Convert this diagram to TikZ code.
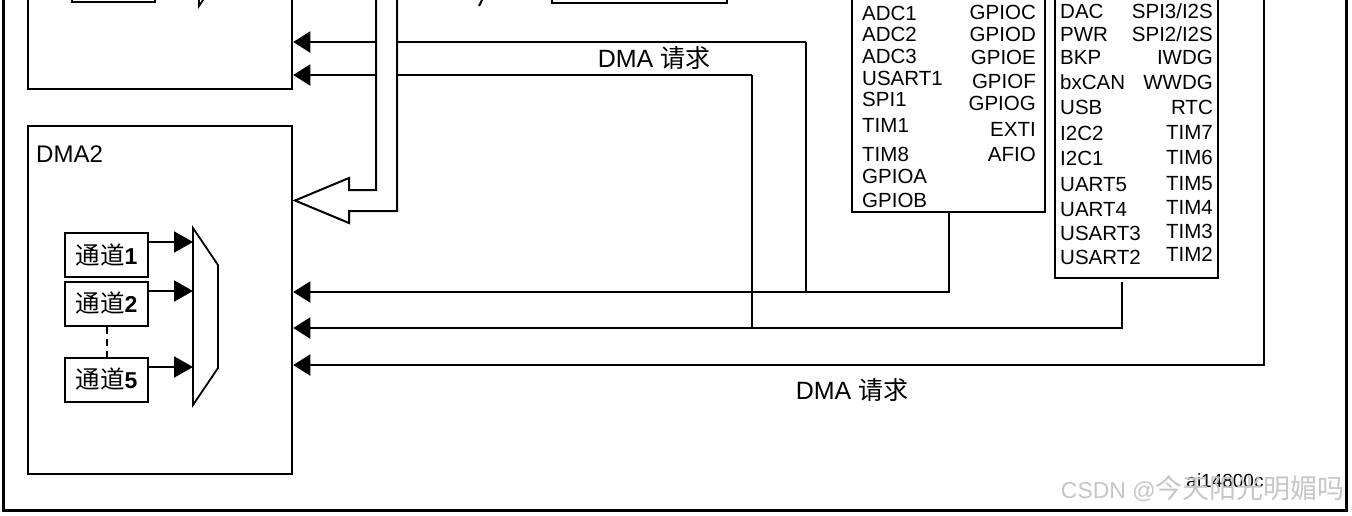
\documentclass[tikz,border=0pt]{standalone}
\usepackage{fontspec}
\setmainfont{Liberation Sans}
\newfontfamily\cjk{Noto Sans CJK SC}
\usetikzlibrary{arrows.meta,calc,positioning}

\begin{document}
\begin{tikzpicture}[
    x=1pt, y=-1pt,
    box/.style={draw, line width=2.5pt, inner sep=0pt},
    chbox/.style={draw, line width=2pt, minimum width=83pt, minimum height=44pt, inner sep=0pt, font=\fontsize{23}{23}\selectfont},
    req/.style={-{Triangle[length=17pt, width=21pt]}, line width=2pt},
    chan/.style={-{Triangle[length=19pt, width=21pt]}, line width=2pt},
    wire/.style={line width=1.2pt},
    periph/.style={inner sep=0pt, font=\fontsize{20.5}{20.5}\selectfont},
    label/.style={inner sep=0pt, font=\fontsize{25}{25}\selectfont},
]
\useasboundingbox (0,0) rectangle (1352,515);
\clip (0,0) rectangle (1352,515);

% ================== frame and cut-off top ==================
\draw[line width=3pt] (3,-100) -- (3,510) -- (1346,510) -- (1346,-100);
\node[box, minimum width=175pt, minimum height=80pt, anchor=south] (bridge) at (639.5,4) {};
\draw[line width=2pt] (483,-2) -- (479,6);

% ================== DMA1 (cut off) ==================
\node[box, minimum width=264pt, minimum height=348pt] (dma1) at (160,-85) {};
\node[chbox] (dma1ch) at (113,-20) {};
\draw[line width=1.8pt] (199,-171) -- (224,-134) -- (224,-31) -- (199,6) -- cycle;

% ================== DMA2 ==================
\node[box, minimum width=264pt, minimum height=348pt] (dma2) at (160,300) {};
\node[inner sep=0pt, anchor=base west, font=\fontsize{24}{24}\selectfont] (dma2lbl) at (36,162) {DMA2};
\node[chbox] (ch1) at (106.5,255) {{\cjk\fontsize{24.5}{24.5}\selectfont 通道}\textbf{1}};
\node[chbox] (ch2) at (106.5,303.5) {{\cjk\fontsize{24.5}{24.5}\selectfont 通道}\textbf{2}};
\node[chbox] (ch5) at (106.5,379.5) {{\cjk\fontsize{24.5}{24.5}\selectfont 通道}\textbf{5}};
\draw[dashed, dash pattern=on 7pt off 5pt, line width=2pt] (ch2) -- (ch5);

\coordinate (muxtop) at (193,228);
\coordinate (muxbot) at (193,405);
\draw[line width=1.8pt] (muxtop) -- (218,265) -- (218,368) -- (muxbot) -- cycle;

\path ($(ch1.east)+(0,-13)$) coordinate (o1);
\path ($(ch2.east)+(0,-12.5)$) coordinate (o2);
\path ($(ch5.east)+(0,-12.5)$) coordinate (o5);
\draw[chan] (o1) -- (o1 -| muxtop);
\draw[chan] (o2) -- (o2 -| muxtop);
\draw[chan] (o5) -- (o5 -| muxtop);

% ================== APB2 peripherals ==================
\node[box, minimum width=193pt, minimum height=252pt] (apbB) at (948.5,86) {};
\node[periph, anchor=base west] (adc1) at (862,20) {ADC1};
\node[periph, anchor=base west] (adc2) at (862,41) {ADC2};
\node[periph, anchor=base west] (adc3) at (862,63) {ADC3};
\node[periph, anchor=base west] (usart1) at (862,85) {USART1};
\node[periph, anchor=base west] (spi1) at (862,106) {SPI1};
\node[periph, anchor=base west] (tim1) at (862,132) {TIM1};
\node[periph, anchor=base west] (tim8) at (862,161) {TIM8};
\node[periph, anchor=base west] (gpioa) at (862,183) {GPIOA};
\node[periph, anchor=base west] (gpiob) at (862,207) {GPIOB};
\node[periph, anchor=base east] (gpioc) at (1036,19) {GPIOC};
\node[periph, anchor=base east] (gpiod) at (1036,41) {GPIOD};
\node[periph, anchor=base east] (gpioe) at (1036,64) {GPIOE};
\node[periph, anchor=base east] (gpiof) at (1036,88) {GPIOF};
\node[periph, anchor=base east] (gpiog) at (1036,110) {GPIOG};
\node[periph, anchor=base east] (exti) at (1036,136) {EXTI};
\node[periph, anchor=base east] (afio) at (1036,161) {AFIO};

% ================== APB1 peripherals ==================
\node[box, minimum width=163pt, minimum height=318pt] (apbA) at (1136.5,119) {};
\node[periph, anchor=base west] (dac) at (1060,18) {DAC};
\node[periph, anchor=base west] (pwr) at (1060,41) {PWR};
\node[periph, anchor=base west] (bkp) at (1060,64) {BKP};
\node[periph, anchor=base west] (bxcan) at (1060,89) {bxCAN};
\node[periph, anchor=base west] (usb) at (1060,114) {USB};
\node[periph, anchor=base west] (i2c2) at (1060,140) {I2C2};
\node[periph, anchor=base west] (i2c1) at (1060,165) {I2C1};
\node[periph, anchor=base west] (uart5) at (1060,191) {UART5};
\node[periph, anchor=base west] (uart4) at (1060,216) {UART4};
\node[periph, anchor=base west] (usart3) at (1060,240) {USART3};
\node[periph, anchor=base west] (usart2) at (1060,264) {USART2};
\node[periph, anchor=base east] (spi3) at (1213,18) {SPI3/I2S};
\node[periph, anchor=base east] (spi2) at (1213,41) {SPI2/I2S};
\node[periph, anchor=base east] (iwdg) at (1213,64) {IWDG};
\node[periph, anchor=base east] (wwdg) at (1213,89) {WWDG};
\node[periph, anchor=base east] (rtc) at (1213,114) {RTC};
\node[periph, anchor=base east] (tim7) at (1213,139) {TIM7};
\node[periph, anchor=base east] (tim6) at (1213,164) {TIM6};
\node[periph, anchor=base east] (tim5) at (1213,190) {TIM5};
\node[periph, anchor=base east] (tim4) at (1213,214) {TIM4};
\node[periph, anchor=base east] (tim3) at (1213,238) {TIM3};
\node[periph, anchor=base east] (tim2) at (1213,261) {TIM2};

% ================== DMA requests ==================
\coordinate (j1) at (806,292);
\coordinate (k1) at (806,42);
\coordinate (j3) at (752,328);
\coordinate (k3) at (752,75);
\coordinate (tapA) at (1122,282);
\coordinate (rtop) at (1264,-20);
\coordinate (j5) at (1264,365);

\draw[req] (apbB.south) |- (dma2.east |- j1);
\draw[line width=2pt] (j1) -- (k1);
\draw[req] (k1) -- (k1 -| dma1.east);
\draw[req] (tapA) |- (dma2.east |- j3);
\draw[wire] (j3) -- (k3);
\draw[req] (k3) -- (k3 -| dma1.east);
\draw[req] (rtop) -- (j5) -- (j5 -| dma2.east);

\node[label, anchor=base] (reqTop) at (654,67) {DMA {\cjk 请求}};
\node[label, anchor=base] (reqBot) at (852,399) {DMA {\cjk 请求}};

% Bus arrow into DMA2
\draw[line width=2pt, fill=white] (376,-20) -- (376,190) -- (349,190) -- (349,178) -- (295,200.5) -- (349,223) -- (349,211) -- (397,211) -- (397,-20);

% ================== footer ==================
\node[inner sep=0pt, anchor=base, font=\fontsize{19}{19}\selectfont] (figid) at (1225,487) {ai14800c};
\node[inner sep=0pt, anchor=base east, text=gray!45, font=\fontsize{23}{23}\selectfont] (mark) at (1345,498) {CSDN @{\cjk\fontsize{27}{27}\selectfont 今天阳光明媚吗}};

\end{tikzpicture}
\end{document}
